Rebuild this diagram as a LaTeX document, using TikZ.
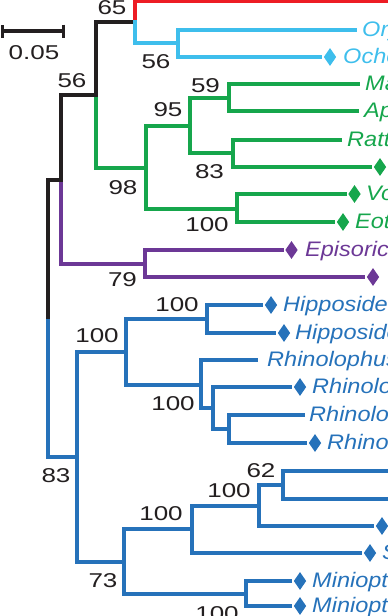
\documentclass[tikz,border=0pt]{standalone}
\usepackage{fontspec}
\setmainfont{Liberation Sans}
\newfontfamily\bootfont[FakeStretch=1.3]{Liberation Sans}
\newfontfamily\taxonfont[FakeStretch=1.12]{Liberation Sans}
\usepackage{xcolor}
\definecolor{colInk}{RGB}{35,31,32}
\definecolor{colRed}{RGB}{237,28,36}
\definecolor{colCyan}{RGB}{62,190,236}
\definecolor{colGreen}{RGB}{22,166,76}
\definecolor{colPurple}{RGB}{108,56,150}
\definecolor{colBlue}{RGB}{38,114,186}
\usepackage{tikz}
\usetikzlibrary{arrows.meta, shapes.geometric}

\begin{document}
\begin{tikzpicture}[
		x=1pt, y=-1pt,
		every node/.style={inner sep=0pt},
		branch/.style={line width=3.2pt, line cap=rect},
		boot/.style={text height=14.4pt, text depth=0pt, text=colInk,
		             font=\bootfont\fontsize{20}{20}\selectfont},
		taxon/.style={anchor=west, text height=15pt, text depth=0pt, yshift=1.5pt,
		              font=\taxonfont\itshape\fontsize{21}{21}\selectfont},
		gem/.style={diamond, aspect=0.7, minimum width=12.5pt, minimum height=18pt, draw=none},
		leafline/.style={branch, shorten >=3pt}
	]
	\useasboundingbox (0,0) rectangle (388,616);
	\clip (0,0) rectangle (388,616);

	% inner nodes of the tree
	\coordinate (root) at (48,317);
	\coordinate (bk56) at (61,180);
	\coordinate (bk56b) at (96,95);
	\coordinate (rd65) at (135,22);
	\coordinate (cy56) at (178,43);
	\coordinate (gr98) at (146,168);
	\coordinate (gr95) at (190,126);
	\coordinate (gr59) at (229,98);
	\coordinate (gr83) at (233,153);
	\coordinate (gr100) at (237,209);
	\coordinate (pu79) at (145,264);
	\coordinate (bl83) at (77,457);
	\coordinate (bl100a) at (126,352);
	\coordinate (bl100b) at (207,319);
	\coordinate (bl100c) at (201,385);
	\coordinate (blRa) at (213,408);
	\coordinate (blRb) at (229,429);
	\coordinate (bl73) at (124,562);
	\coordinate (bl100d) at (192,529);
	\coordinate (bl100e) at (259,506);
	\coordinate (bl62) at (283,485);
	\coordinate (bl100f) at (246,594);

	% plain tips
	\coordinate (tRed) at (392,1);
	\coordinate (tOry) at (355,30);
	\coordinate (tMas) at (358,84);
	\coordinate (tApo) at (357,111);
	\coordinate (tRat) at (340,140);
	\coordinate (tRhiA) at (256,360);
	\coordinate (tRhiB) at (303,415);
	\coordinate (tBlA) at (392,471);
	\coordinate (tBlB) at (392,499);

	% diamond tips
	\node[gem, fill=colCyan] (dOch) at (330,57) {};
	\node[gem, fill=colGreen] (dGrA) at (380,167) {};
	\node[gem, fill=colGreen] (dVo) at (354.5,194) {};
	\node[gem, fill=colGreen] (dEot) at (343,222) {};
	\node[gem, fill=colPurple] (dEpi) at (291.5,250) {};
	\node[gem, fill=colPurple] (dPuB) at (373,277) {};
	\node[gem, fill=colBlue] (dHipA) at (271,305) {};
	\node[gem, fill=colBlue] (dHipB) at (284,333) {};
	\node[gem, fill=colBlue] (dRhiA) at (300,387) {};
	\node[gem, fill=colBlue] (dRhiB) at (315,443) {};
	\node[gem, fill=colBlue] (dBlC) at (382,526) {};
	\node[gem, fill=colBlue] (dSco) at (370,553) {};
	\node[gem, fill=colBlue] (dMinA) at (300,581) {};
	\node[gem, fill=colBlue] (dMinB) at (300,606) {};

	% taxon names
	\node[taxon, text=colCyan] (nOry) at (362,30) {Oryctolagus};
	\node[taxon, text=colCyan] (nOch) at (343,57) {Ochotona};
	\node[taxon, text=colGreen] (nMas) at (365,84) {Mastomys};
	\node[taxon, text=colGreen] (nApo) at (364,111) {Apodemus};
	\node[taxon, text=colGreen] (nRat) at (347,140) {Rattus};
	\node[taxon, text=colGreen] (nVo) at (366,194) {Volemys};
	\node[taxon, text=colGreen] (nEot) at (355,222) {Eothenomys};
	\node[taxon, text=colPurple] (nEpi) at (305,250) {Episoriculus};
	\node[taxon, text=colBlue] (nHipA) at (283,305) {Hipposideros};
	\node[taxon, text=colBlue] (nHipB) at (295,333) {Hipposideros};
	\node[taxon, text=colBlue] (nRhiA) at (267,360) {Rhinolophus};
	\node[taxon, text=colBlue] (nRhiB) at (312,387) {Rhinolophus};
	\node[taxon, text=colBlue] (nRhiC) at (309,415) {Rhinolophus};
	\node[taxon, text=colBlue] (nRhiD) at (327,443) {Rhinolophus};
	\node[taxon, text=colBlue] (nSco) at (382,553) {Scotophilus};
	\node[taxon, text=colBlue] (nMinA) at (312,581) {Miniopterus};
	\node[taxon, text=colBlue] (nMinB) at (312,606) {Miniopterus};

	% backbone
	\draw[branch, colBlue] (root) |- (bl83);
	\draw[branch, colInk] (root) |- (bk56);
	\draw[branch, colPurple] (bk56) |- (pu79);
	\draw[branch, colInk] (bk56) |- (bk56b);
	\draw[branch, colGreen] (bk56b) |- (gr98);
	\draw[branch, colInk] (bk56b) |- (rd65);
	\draw[branch, colRed] (rd65) |- (tRed);
	\draw[branch, colCyan] (rd65) |- (cy56);
	\draw[branch, colCyan] (cy56) |- (tOry);
	\draw[leafline, colCyan] (cy56) |- (dOch.west);

	% green clade
	\draw[branch, colGreen] (gr98) |- (gr95);
	\draw[branch, colGreen] (gr98) |- (gr100);
	\draw[branch, colGreen] (gr95) |- (gr59);
	\draw[branch, colGreen] (gr95) |- (gr83);
	\draw[branch, colGreen] (gr59) |- (tMas);
	\draw[branch, colGreen] (gr59) |- (tApo);
	\draw[branch, colGreen] (gr83) |- (tRat);
	\draw[leafline, colGreen] (gr83) |- (dGrA.west);
	\draw[leafline, colGreen] (gr100) |- (dVo.west);
	\draw[leafline, colGreen] (gr100) |- (dEot.west);

	% purple clade
	\draw[leafline, colPurple] (pu79) |- (dEpi.west);
	\draw[leafline, colPurple] (pu79) |- (dPuB.west);

	% blue clade
	\draw[branch, colBlue] (bl83) |- (bl100a);
	\draw[branch, colBlue] (bl83) |- (bl73);
	\draw[branch, colBlue] (bl100a) |- (bl100b);
	\draw[branch, colBlue] (bl100a) |- (bl100c);
	\draw[leafline, colBlue] (bl100b) |- (dHipA.west);
	\draw[leafline, colBlue] (bl100b) |- (dHipB.west);
	\draw[branch, colBlue] (bl100c) |- (tRhiA);
	\draw[branch, colBlue] (bl100c) |- (blRa);
	\draw[leafline, colBlue] (blRa) |- (dRhiA.west);
	\draw[branch, colBlue] (blRa) |- (blRb);
	\draw[branch, colBlue] (blRb) |- (tRhiB);
	\draw[leafline, colBlue] (blRb) |- (dRhiB.west);
	\draw[branch, colBlue] (bl73) |- (bl100d);
	\draw[branch, colBlue] (bl73) |- (bl100f);
	\draw[branch, colBlue] (bl100d) |- (bl100e);
	\draw[leafline, colBlue] (bl100d) |- (dSco.west);
	\draw[branch, colBlue] (bl100e) |- (bl62);
	\draw[leafline, colBlue] (bl100e) |- (dBlC.west);
	\draw[branch, colBlue] (bl62) |- (tBlA);
	\draw[branch, colBlue] (bl62) |- (tBlB);
	\draw[leafline, colBlue] (bl100f) |- (dMinA.west);
	\draw[leafline, colBlue] (bl100f) |- (dMinB.west);

	% bootstrap values
	\node[boot] (b65) at (112,7) {65};
	\node[boot] (b56c) at (156,61) {56};
	\node[boot] (b56k) at (72,80) {56};
	\node[boot] (b59) at (205.5,85) {59};
	\node[boot] (b95) at (168,109) {95};
	\node[boot] (b83g) at (209.5,171) {83};
	\node[boot] (b98) at (123,187) {98};
	\node[boot] (b100g) at (207,224.5) {100};
	\node[boot] (b79) at (122.5,279) {79};
	\node[boot] (b100h) at (177,304.5) {100};
	\node[boot] (b100a) at (97,335) {100};
	\node[boot] (b100r) at (173,403) {100};
	\node[boot] (b83) at (56,475) {83};
	\node[boot] (b62) at (261,470) {62};
	\node[boot] (b100e) at (229,490) {100};
	\node[boot] (b100d) at (161,513) {100};
	\node[boot] (b73) at (103,580) {73};
	\node[boot] (b100f) at (217,613) {100};

	% scale bar
	\coordinate (sbL) at (1,31);
	\coordinate (sbR) at (65,31);
	\draw[line width=3.2pt, colInk, {Bar[width=13pt]}-{Bar[width=13pt]}] (sbL) -- (sbR);
	\node[boot] (sbLab) at (34,52.5) {0.05};
\end{tikzpicture}
\end{document}
